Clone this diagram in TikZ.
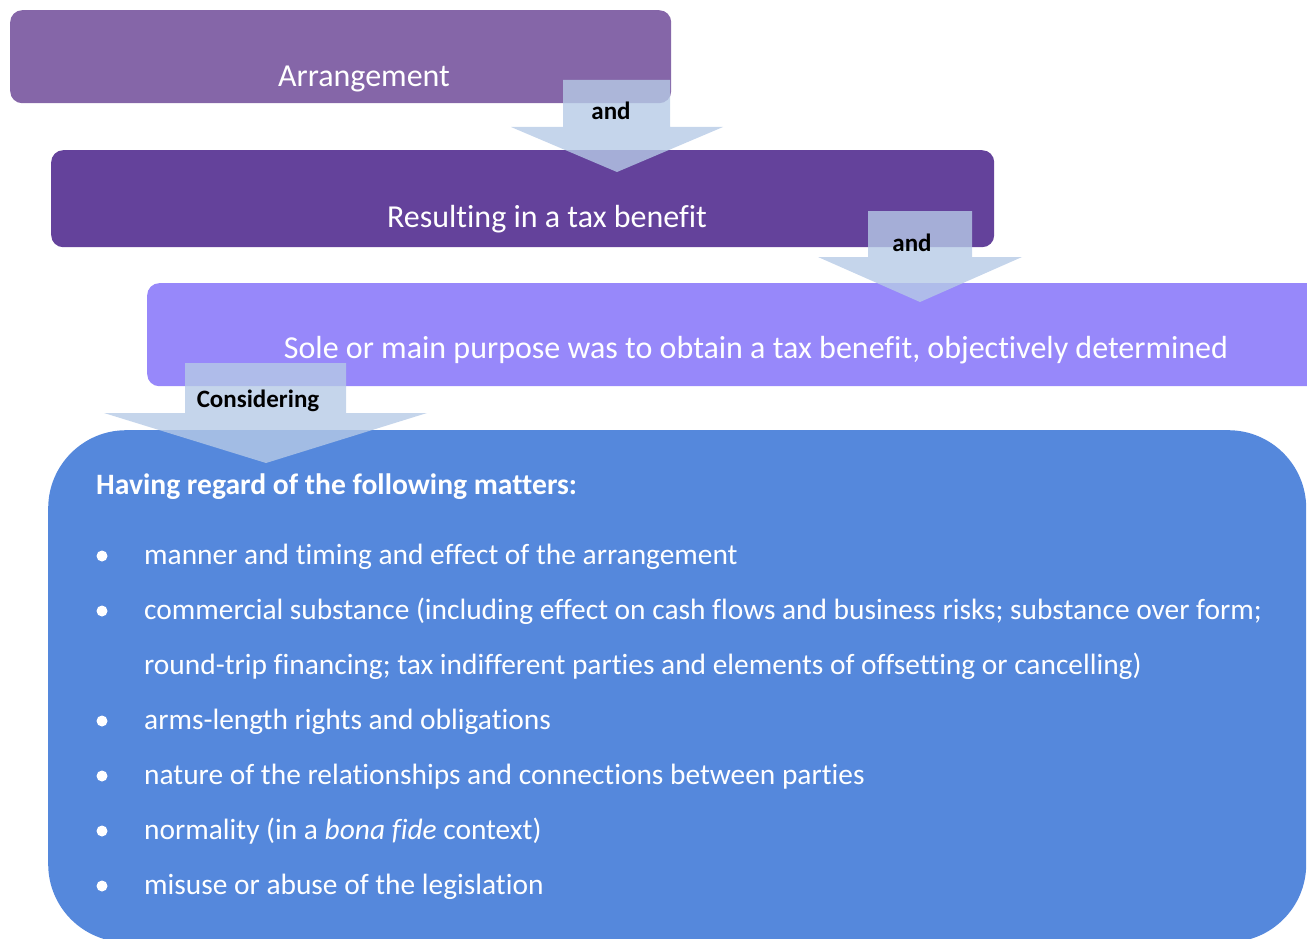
\documentclass[tikz,border=0pt]{standalone}
\usepackage{fontspec}
\setmainfont[Ligatures=NoCommon]{Carlito}
\usetikzlibrary{positioning}
\definecolor{arrangecolor}{RGB}{133,102,168}
\definecolor{benefitcolor}{RGB}{100,66,155}
\definecolor{purposecolor}{RGB}{151,136,250}
\definecolor{matterscolor}{RGB}{85,136,220}
\definecolor{arrowcolor}{RGB}{182,202,230}
\tikzset{
	box/.style={
		rectangle,
		rounded corners=12pt,
		anchor=north west,
		inner sep=0pt
	},
	boxtext/.style={
		text=white,
		anchor=base,
		inner sep=0pt,
		font=\fontsize{32}{38}\selectfont
	},
	bigarrow/.style={
		fill=arrowcolor,
		fill opacity=0.8
	},
	arrowtext/.style={
		anchor=base,
		inner sep=0pt,
		font=\bfseries\fontsize{25}{30}\selectfont
	},
	itemtext/.style={
		text=white,
		anchor=base west,
		inner sep=0pt,
		font=\fontsize{29.4}{35}\selectfont
	},
	bulletdot/.style={
		circle,
		fill=white,
		minimum size=11pt,
		inner sep=0pt
	},
}

\begin{document}
\begin{tikzpicture}[x=1pt,y=-1pt]
		\useasboundingbox (0,0) rectangle (1307,939);
		
		% boxes
		\node (arrangement) [box,fill=arrangecolor,minimum width=661pt,minimum height=93pt] at (10,10) {};
		\node (benefit) [box,fill=benefitcolor,minimum width=943pt,minimum height=97pt] at (51,150) {};
		\node (purpose) [box,fill=purposecolor,minimum width=1190pt,minimum height=103pt] at (147,283) {};
		\node (matters) [box,fill=matterscolor,rounded corners=78pt,minimum width=1258pt,minimum height=512pt] at (48,430) {};
		
		\node (arrangementtext) [boxtext] at (364,87) {Arrangement};
		\node (benefittext) [boxtext] at (547,227) {Resulting in a tax benefit};
		\node (purposetext) [boxtext] at (756,358) {Sole or main purpose was to obtain a tax benefit, objectively determined};
		
		% block arrows
		\coordinate (tipA) at (617,172);
		\coordinate (tipB) at (920,302);
		\coordinate (tipC) at (266,463);
		\fill [bigarrow] (tipA) -- ++(106,-45) -- ++(-53,0) -- ++(0,-47) -- ++(-107,0) -- ++(0,47) -- ++(-52,0) -- cycle;
		\fill [bigarrow] (tipB) -- ++(102,-45) -- ++(-50,0) -- ++(0,-46) -- ++(-104,0) -- ++(0,46) -- ++(-50,0) -- cycle;
		\fill [bigarrow] (tipC) -- ++(161,-50) -- ++(-81,0) -- ++(0,-50) -- ++(-161,0) -- ++(0,50) -- ++(-81,0) -- cycle;
		
		\node (andA) [arrowtext] at (611,120) {and};
		\node (andB) [arrowtext] at (912,251) {and};
		\node (considering) [arrowtext] at (258,407) {Considering};
		
		% list of matters
		\node (heading) [itemtext,font=\bfseries\fontsize{29.6}{35}\selectfont] at (96,494) {Having regard of the following matters:};
		\foreach \y/\txt [count=\i] in {564/{manner and timing and effect of the arrangement},
			619/{commercial substance (including effect on cash flows and business risks; substance over form;},
			729/{arms-length rights and obligations},
			784/{nature of the relationships and connections between parties},
			839/{normality (in a \textit{bona fide} context)},
			894/{misuse or abuse of the legislation}}
		{
			\node (item\i) [itemtext] at (144,\y) {\txt};
			\node (dot\i) [bulletdot] at (102,\y-8) {};
		}
		\node (item2b) [itemtext] at (144,674) {round-trip financing; tax indifferent parties and elements of offsetting or cancelling)};
		
\end{tikzpicture}
\end{document}
